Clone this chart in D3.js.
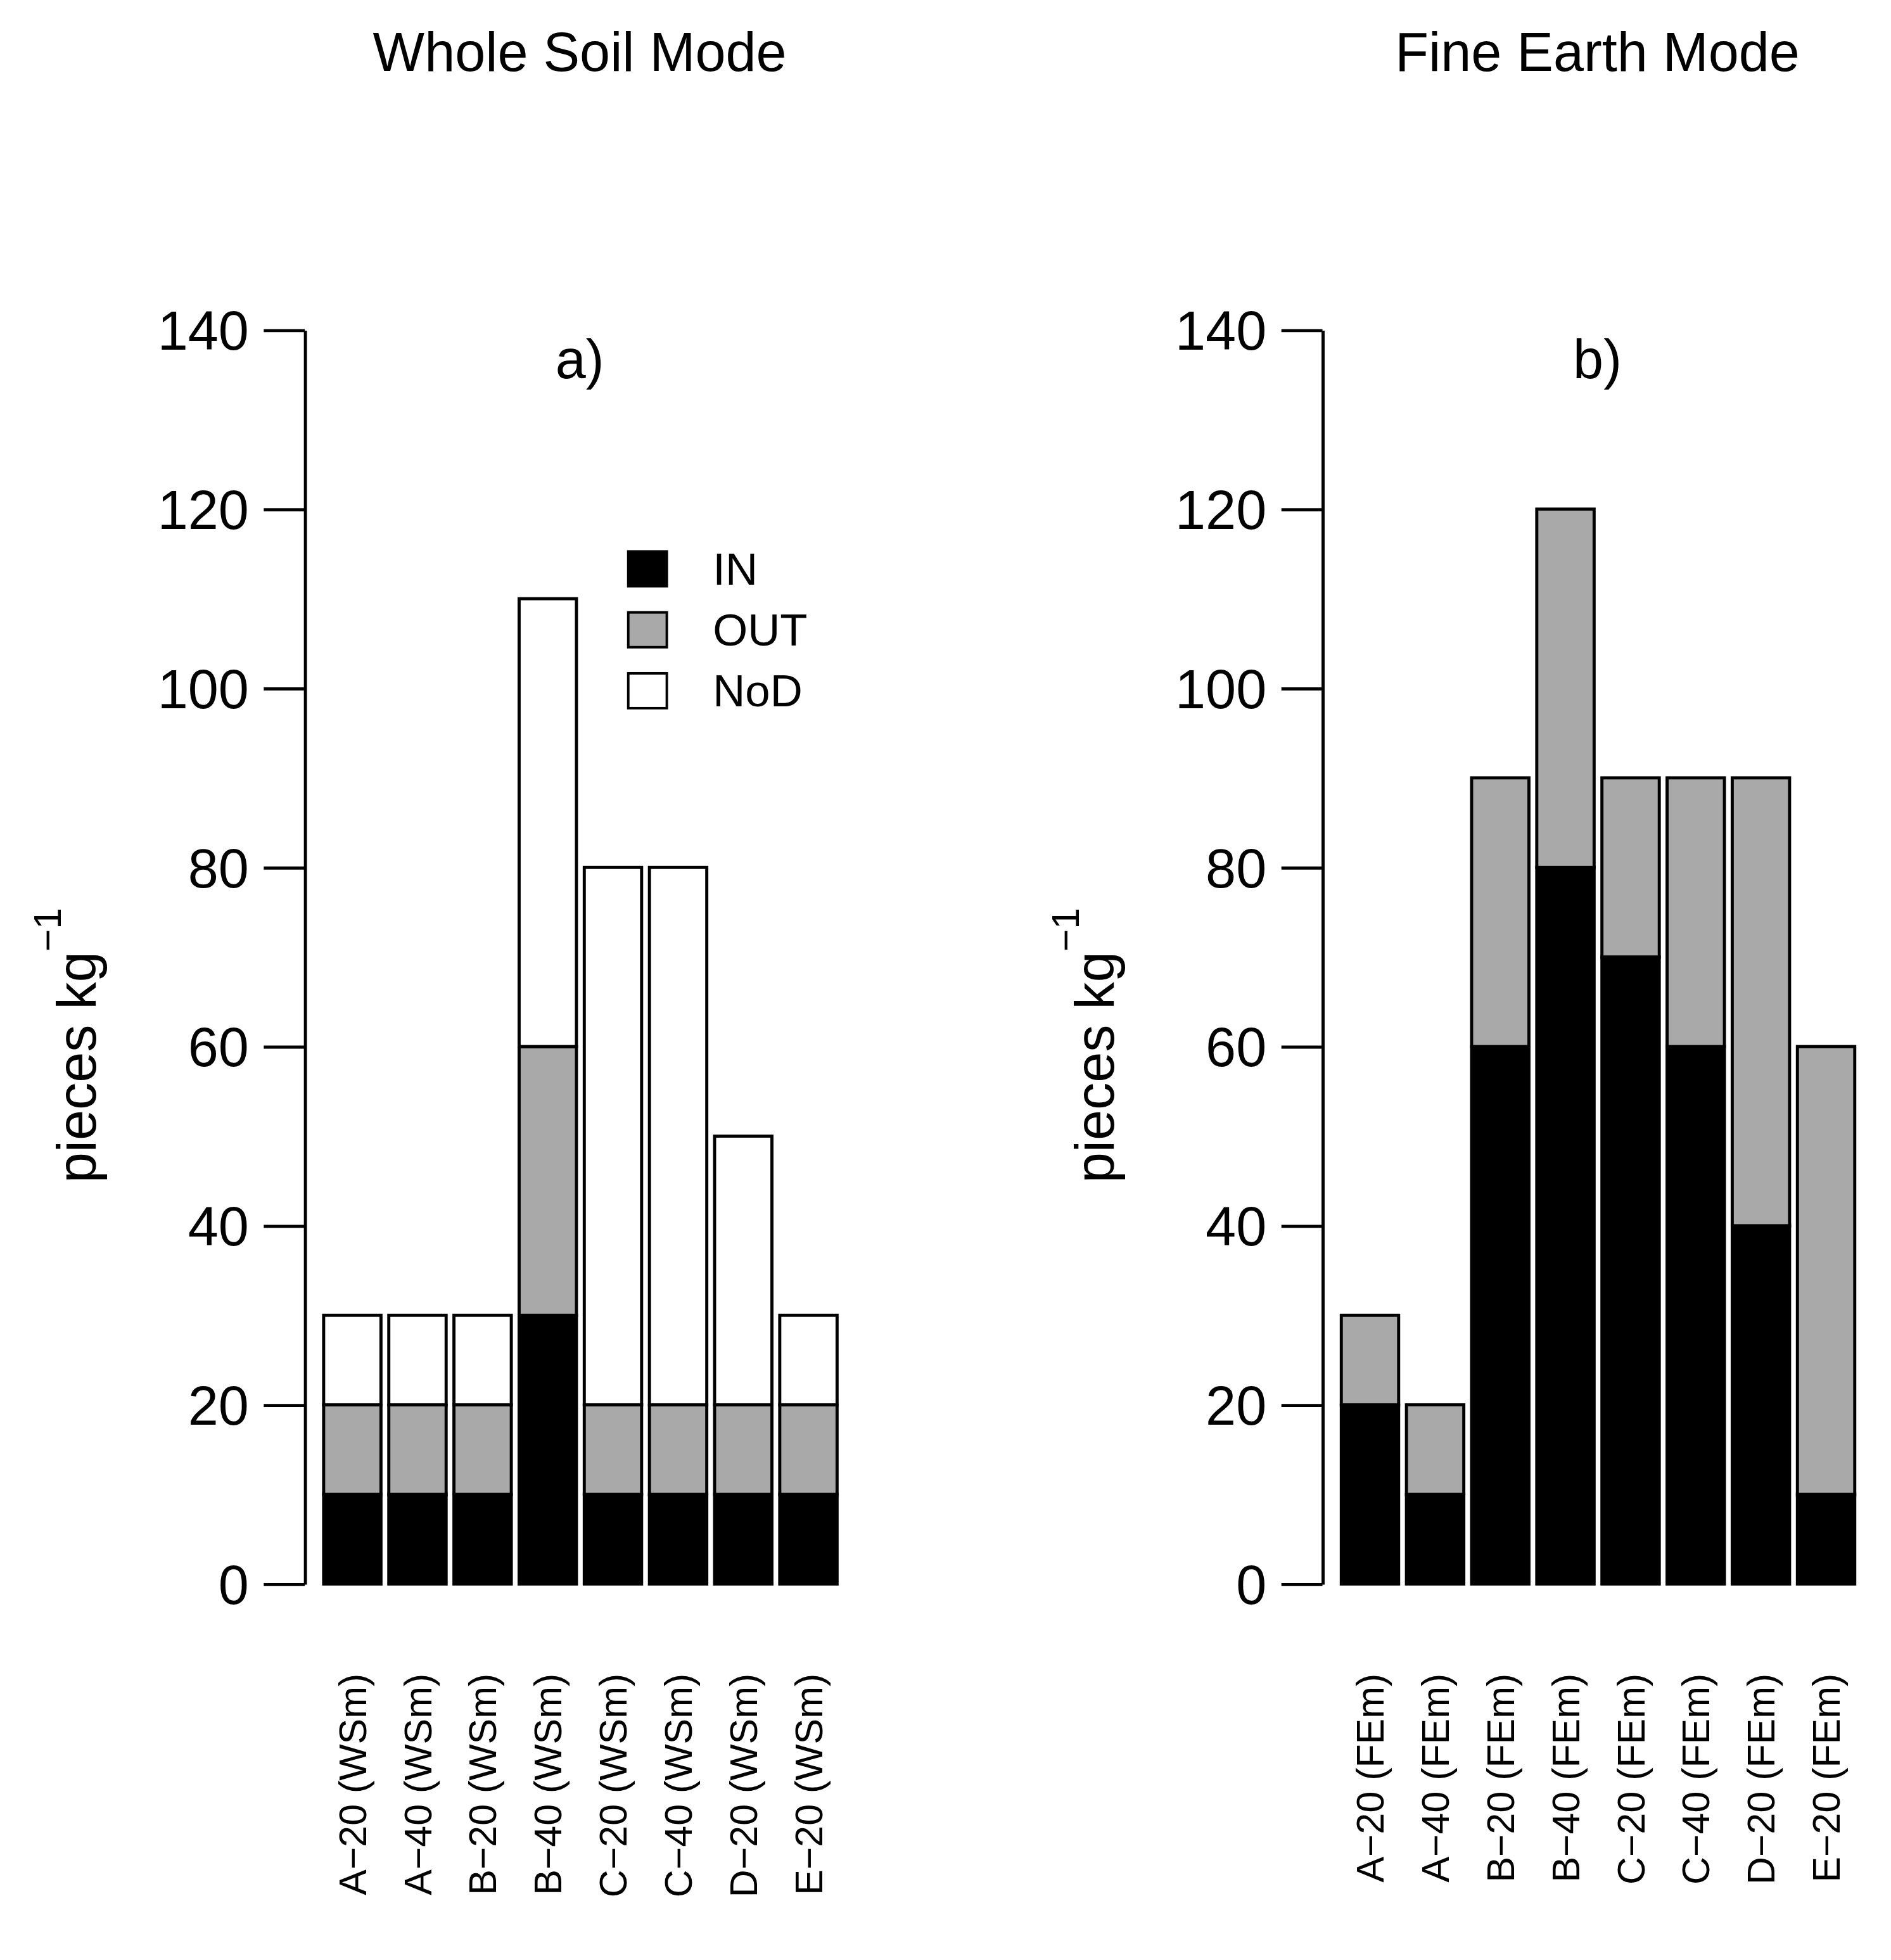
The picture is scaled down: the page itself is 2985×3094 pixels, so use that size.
<!DOCTYPE html>
<html><head><meta charset="utf-8">
<script src="https://cdn.jsdelivr.net/npm/d3@7"></script>
<style>body{margin:0;background:#fff}svg{display:block}</style>
</head><body>
<script>
const catsWS = ["A−20 (WSm)","A−40 (WSm)","B−20 (WSm)","B−40 (WSm)","C−20 (WSm)","C−40 (WSm)","D−20 (WSm)","E−20 (WSm)"];
const catsFE = ["A−20 (FEm)","A−40 (FEm)","B−20 (FEm)","B−40 (FEm)","C−20 (FEm)","C−40 (FEm)","D−20 (FEm)","E−20 (FEm)"];
const wsIN  = [10,10,10,30,10,10,10,10];
const wsOUT = [10,10,10,30,10,10,10,10];
const wsNoD = [10,10,10,50,60,60,30,10];
const feIN  = [20,10,60,80,70,60,40,10];
const feOUT = [10,10,30,40,20,30,50,50];
const feNoD = [0,0,0,0,0,0,0,0];
const seriesNames = ["IN","OUT","NoD"];
const seriesColors = ["#000000","#a9a9a9","#ffffff"];
const yTicks = [0,20,40,60,80,100,120,140];

const svg = d3.select("body").append("svg").attr("width",2985).attr("height",3094)
  .attr("viewBox","0 0 1520 1575");
const font = "Liberation Sans, Arial, sans-serif";
const y = d3.scaleLinear().domain([0,140]).range([1273,265]);

function panel(ox, title, tag, cats, vals, legend){
  const g = svg.append("g").attr("transform",`translate(${ox},0)`);
  const x = d3.scaleBand().domain(cats).range([257,676]).paddingInner(0.12).paddingOuter(0.06);
  // axis
  const ax = g.append("g").attr("transform","translate(245,0)")
    .call(d3.axisLeft(y).tickValues(yTicks).tickSize(33).tickPadding(12).tickSizeOuter(0));
  ax.select(".domain").attr("stroke","#000").attr("stroke-width",2.5);
  ax.selectAll(".tick line").attr("stroke-width",2.5);
  ax.selectAll("text").attr("font-size",44).attr("font-family",font).attr("fill","#000").attr("dy","0.35em");
  // stacks
  const rows = cats.map((c,i)=>({cat:c,IN:vals[0][i],OUT:vals[1][i],NoD:vals[2][i]}));
  const stack = d3.stack().keys(seriesNames)(rows);
  stack.forEach((layer,k)=>{
    g.append("g").selectAll("rect").data(layer.filter(d=>d[1]>d[0])).join("rect")
      .attr("x",d=>x(d.data.cat)).attr("width",x.bandwidth())
      .attr("y",d=>y(d[1])).attr("height",d=>y(d[0])-y(d[1]))
      .attr("fill",seriesColors[k]).attr("stroke","#000").attr("stroke-width",2.5);
  });
  // category labels
  g.append("g").selectAll("text").data(cats).join("text")
    .attr("transform",d=>`translate(${x(d)+x.bandwidth()/2+11},1345) rotate(-90)`)
    .attr("text-anchor","end").attr("font-size",31).attr("font-family",font).text(d=>d);
  // titles
  g.append("text").attr("x",466).attr("y",57).attr("text-anchor","middle")
    .attr("font-size",44).attr("font-family",font).text(title);
  g.append("text").attr("x",466).attr("y",304).attr("text-anchor","middle")
    .attr("font-size",44).attr("font-family",font).text(tag);
  // y label
  const yl = g.append("text").attr("transform","translate(77,840) rotate(-90)")
    .attr("text-anchor","middle").attr("font-size",44).attr("font-family",font);
  yl.append("tspan").text("pieces kg");
  yl.append("tspan").attr("font-size",31).attr("dy","-0.9em").text("−1");
  if(legend){
    const lg = g.append("g");
    seriesNames.forEach((s,i)=>{
      lg.append("rect").attr("x",505).attr("y",443+i*49).attr("width",31).attr("height",28)
        .attr("fill",seriesColors[i]).attr("stroke","#000").attr("stroke-width",2);
      lg.append("text").attr("x",573).attr("y",457+i*49).attr("dy","0.35em")
        .attr("font-size",36).attr("font-family",font).text(s);
    });
  }
}
panel(0,"Whole Soil Mode","a)",catsWS,[wsIN,wsOUT,wsNoD],true);
panel(818,"Fine Earth Mode","b)",catsFE,[feIN,feOUT,feNoD],false);
</script>
</body></html>
